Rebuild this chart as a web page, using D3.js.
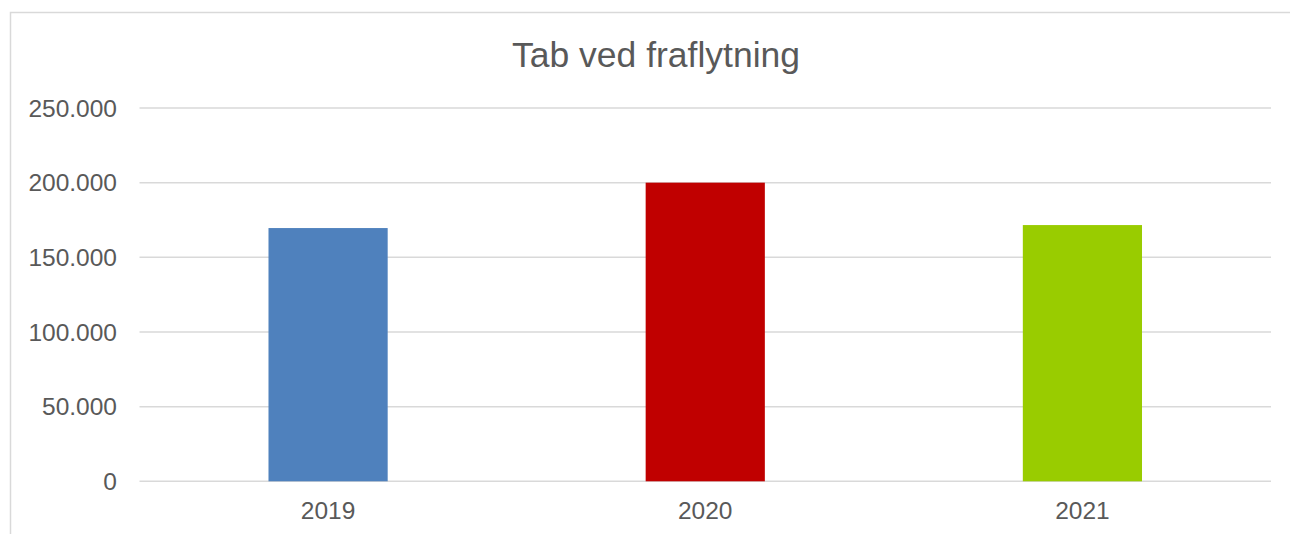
<!DOCTYPE html>
<html>
<head>
<meta charset="utf-8">
<script src="https://cdn.jsdelivr.net/npm/d3@7"></script>
<style>
  body { margin: 0; background: #fff; }
  text { font-family: "Liberation Sans", Arial, sans-serif; fill: #595959; }
</style>
</head>
<body>
<svg class="chart"></svg>
<script>
var width = 1290,
    height = 534;

var years = ['2019', '2020', '2021'];
var values = [169600, 200000, 171600];
var colors = ['#4F81BD', '#C00000', '#99CC00'];
var yticks = [0, 50000, 100000, 150000, 200000, 250000];

var plotLeft = 139.5, plotRight = 1271,
    plotTop = 108, plotBottom = 481.3;

var chart = d3.select('.chart')
    .attr('width', width)
    .attr('height', height);

// chart frame (right and bottom edges fall outside the picture)
chart.append('rect')
  .attr('x', 10.5)
  .attr('y', 12.5)
  .attr('width', 1300)
  .attr('height', 600)
  .attr('fill', 'none')
  .attr('stroke', '#D9D9D9')
  .attr('stroke-width', 1.5);

var xscale = d3.scaleBand()
    .domain(years)
    .range([plotLeft, plotRight])
    .paddingInner(0.684)
    .paddingOuter(0.342);

var yscale = d3.scaleLinear()
    .domain([0, 250000])
    .range([plotBottom, plotTop]);

var fmt = function(v) { return v === 0 ? '0' : d3.format(',')(v).replace(/,/g, '.'); };

// gridlines
chart.selectAll('.grid')
    .data(yticks)
  .enter().append('line')
    .attr('x1', plotLeft)
    .attr('x2', plotRight)
    .attr('y1', function(d) { return yscale(d); })
    .attr('y2', function(d) { return yscale(d); })
    .attr('stroke', '#D9D9D9')
    .attr('stroke-width', 1.5);

// y labels
chart.selectAll('.ytick')
    .data(yticks)
  .enter().append('text')
    .attr('x', 117)
    .attr('y', function(d) { return yscale(d); })
    .attr('dy', '.36em')
    .attr('text-anchor', 'end')
    .style('font-size', '24.5px')
    .text(fmt);

// bars
chart.selectAll('.bar')
    .data(values)
  .enter().append('rect')
    .attr('x', function(d, i) { return xscale(years[i]); })
    .attr('y', function(d) { return yscale(d); })
    .attr('width', xscale.bandwidth())
    .attr('height', function(d) { return plotBottom - yscale(d); })
    .attr('fill', function(d, i) { return colors[i]; });

// x labels
chart.selectAll('.xtick')
    .data(years)
  .enter().append('text')
    .attr('x', function(d) { return xscale(d) + xscale.bandwidth() / 2; })
    .attr('y', 519)
    .attr('text-anchor', 'middle')
    .style('font-size', '24.5px')
    .text(function(d) { return d; });

// title
chart.append('text')
  .attr('x', 656)
  .attr('y', 67)
  .attr('text-anchor', 'middle')
  .style('font-size', '35.5px')
  .text('Tab ved fraflytning');
</script>
</body>
</html>
